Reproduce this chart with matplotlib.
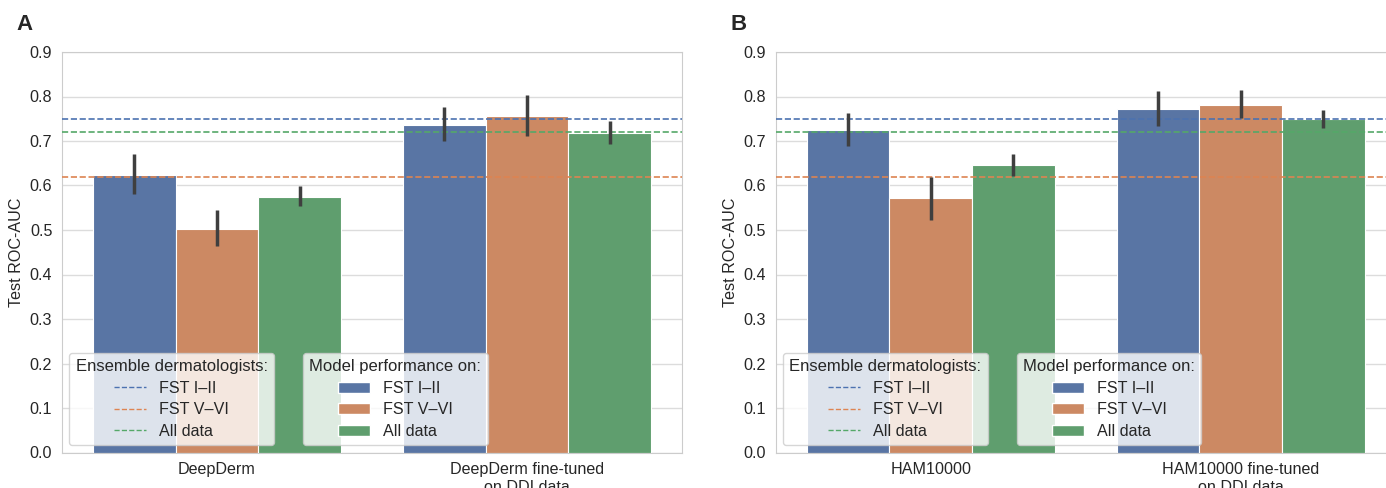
import numpy as np
import seaborn as sns
from matplotlib import pyplot as plt
from matplotlib.lines import Line2D
from matplotlib.patches import Patch

sns.set_style("whitegrid")
plt.rcParams['font.family'] = ['Liberation Sans', 'DejaVu Sans']

# panel A
models_a = ["DeepDerm", "DeepDerm fine-tuned\non DDI data"]
auc_a = {
    "FST I\u2013II": [0.624, 0.737],
    "FST V\u2013VI": [0.503, 0.756],
    "All data": [0.574, 0.717],
}
ci_low_a = {
    "FST I\u2013II": [0.581, 0.700],
    "FST V\u2013VI": [0.465, 0.712],
    "All data": [0.553, 0.693],
}
ci_high_a = {
    "FST I\u2013II": [0.670, 0.776],
    "FST V\u2013VI": [0.544, 0.803],
    "All data": [0.598, 0.744],
}

# panel B
models_b = ["HAM10000", "HAM10000 fine-tuned\non DDI data"]
auc_b = {
    "FST I\u2013II": [0.724, 0.772],
    "FST V\u2013VI": [0.572, 0.781],
    "All data": [0.646, 0.749],
}
ci_low_b = {
    "FST I\u2013II": [0.688, 0.733],
    "FST V\u2013VI": [0.523, 0.751],
    "All data": [0.622, 0.730],
}
ci_high_b = {
    "FST I\u2013II": [0.763, 0.812],
    "FST V\u2013VI": [0.620, 0.814],
    "All data": [0.671, 0.770],
}

# dermatologist ensemble reference lines
derm_auc = {"FST I\u2013II": 0.75, "FST V\u2013VI": 0.62, "All data": 0.72}

groups = ["FST I\u2013II", "FST V\u2013VI", "All data"]
bar_colors = ["#5975a4", "#cc8963", "#5f9e6e"]
line_colors = ["#4c72b0", "#dd8452", "#55a868"]

fs = 11.6

fig = plt.figure(figsize=(13.86, 4.88), dpi=100)
ax_a = fig.add_axes([62 / 1386, 1 - 452.5 / 488, 620 / 1386, 400.5 / 488])
ax_b = fig.add_axes([775.7 / 1386, 1 - 452.5 / 488, 620 / 1386, 400.5 / 488])


def draw_panel(ax, models, auc, lo, hi):
    x = np.arange(len(models))
    w = 0.8 / 3
    for i, g in enumerate(groups):
        pos = x - 0.8 / 2 + w / 2 + i * w
        vals = np.array(auc[g])
        err = [vals - np.array(lo[g]), np.array(hi[g]) - vals]
        ax.bar(pos, vals, width=w, color=bar_colors[i], edgecolor="white",
               linewidth=0.8, zorder=2)
        ax.errorbar(pos, vals, yerr=err, fmt="none", ecolor="#3f3f3f",
                    elinewidth=2.5, capsize=0, zorder=4)
    for g, c in zip(groups, line_colors):
        ax.axhline(derm_auc[g], color=c, ls="--", lw=1.2, zorder=3)

    ax.set_xlim(-0.5, len(models) - 0.5)
    ax.set_ylim(0, 0.9)
    ax.set_yticks(np.arange(0, 0.91, 0.1))
    ax.set_yticklabels(["%.1f" % t for t in np.arange(0, 0.91, 0.1)], fontsize=fs)
    ax.set_xticks(x)
    ax.set_xticklabels(models, fontsize=fs)
    ax.set_ylabel("Test ROC-AUC", fontsize=fs)
    ax.xaxis.grid(False)
    ax.yaxis.grid(True, color="#dcdcdc", lw=1)
    for s in ax.spines.values():
        s.set_color("#cccccc")

    h1 = [Line2D([0], [0], color=c, ls="--", lw=1.0) for c in line_colors]
    leg1 = ax.legend(h1, groups, title="Ensemble dermatologists:", loc="lower left",
                     bbox_to_anchor=(0.0, 0.0), fontsize=fs, title_fontsize=fs + 0.4,
                     labelspacing=0.4, borderaxespad=0.45, framealpha=0.8)
    ax.add_artist(leg1)
    h2 = [Patch(facecolor=c, edgecolor="white") for c in bar_colors]
    ax.legend(h2, groups, title="Model performance on:", loc="lower left",
              bbox_to_anchor=(0.377, 0.0), fontsize=fs, title_fontsize=fs + 0.4,
              labelspacing=0.4, borderaxespad=0.45, framealpha=0.8)


draw_panel(ax_a, models_a, auc_a, ci_low_a, ci_high_a)
draw_panel(ax_b, models_b, auc_b, ci_low_b, ci_high_b)

fig.text(16 / 1386, 1 - 24 / 488, "A", fontsize=16, fontweight="bold", va="center")
fig.text(730 / 1386, 1 - 24 / 488, "B", fontsize=16, fontweight="bold", va="center")

fig.savefig("out.png", dpi=100)
